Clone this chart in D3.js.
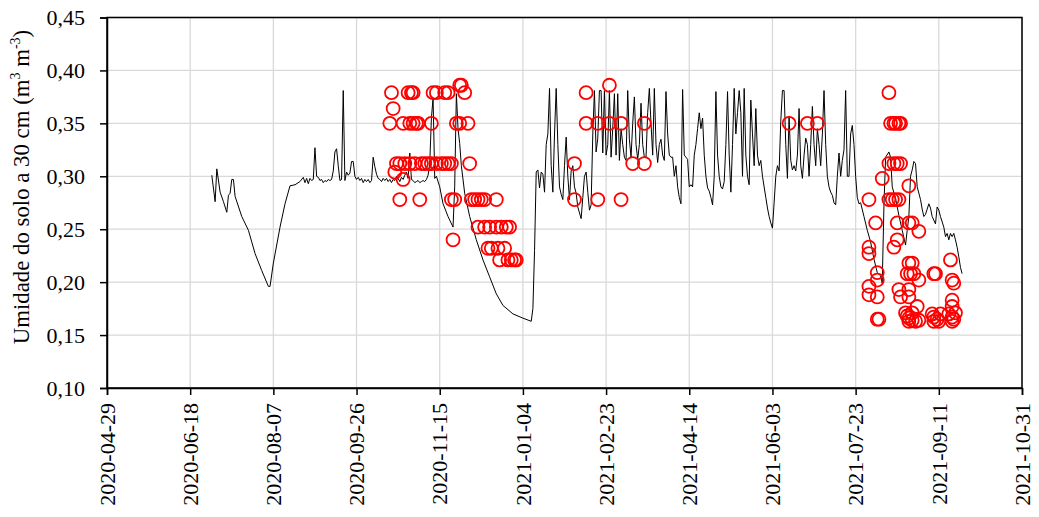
<!DOCTYPE html>
<html><head><meta charset="utf-8">
<script src="https://cdn.jsdelivr.net/npm/d3@7/dist/d3.min.js"></script>
<style>
html,body{margin:0;padding:0;background:#fff;}
svg text{font-family:"Liberation Serif","Times New Roman",serif;fill:#000;}
</style></head>
<body><svg id="c" width="1039" height="517"></svg>
<script>
// ---- data ----
const xTickLabels = ["2020-04-29","2020-06-18","2020-08-07","2020-09-26","2020-11-15","2021-01-04","2021-02-23","2021-04-14","2021-06-03","2021-07-23","2021-09-11","2021-10-31"];
const yTickValues = [0.10,0.15,0.20,0.25,0.30,0.35,0.40,0.45];
const yTitle = ["Umidade do solo a 30 cm (m","3"," m","-3",")"];

const sensorSeries = [
["2020-07-01",0.301],["2020-07-03",0.276],["2020-07-04",0.307],["2020-07-06",0.285],["2020-07-08",0.276],["2020-07-10",0.266],["2020-07-11",0.282],["2020-07-12",0.284],["2020-07-13",0.297],["2020-07-14",0.297],["2020-07-15",0.281],["2020-07-19",0.262],["2020-07-23",0.249],["2020-07-27",0.227],["2020-07-31",0.211],
["2020-08-04",0.196],["2020-08-05",0.196],["2020-08-07",0.218],["2020-08-11",0.252],["2020-08-14",0.274],["2020-08-17",0.291],["2020-08-20",0.292],["2020-08-23",0.295],["2020-08-25",0.299],["2020-08-26",0.294],["2020-08-27",0.298],["2020-08-28",0.293],["2020-08-29",0.298],["2020-08-30",0.296],["2020-08-31",0.297],
["2020-09-01",0.327],["2020-09-02",0.300],["2020-09-03",0.299],["2020-09-04",0.296],["2020-09-05",0.297],["2020-09-06",0.294],["2020-09-07",0.296],["2020-09-08",0.295],["2020-09-09",0.297],["2020-09-10",0.296],["2020-09-11",0.297],["2020-09-12",0.305],["2020-09-13",0.323],["2020-09-14",0.326],["2020-09-15",0.310],["2020-09-16",0.296],["2020-09-17",0.297],["2020-09-18",0.381],["2020-09-19",0.296],["2020-09-20",0.304],["2020-09-21",0.301],["2020-09-22",0.303],["2020-09-23",0.314],["2020-09-24",0.314],["2020-09-25",0.300],["2020-09-26",0.297],["2020-09-27",0.299],["2020-09-28",0.296],["2020-09-29",0.298],["2020-09-30",0.294],
["2020-10-01",0.297],["2020-10-02",0.295],["2020-10-03",0.297],["2020-10-04",0.294],["2020-10-05",0.296],["2020-10-06",0.318],["2020-10-07",0.309],["2020-10-08",0.302],["2020-10-09",0.298],["2020-10-10",0.297],["2020-10-11",0.295],["2020-10-12",0.298],["2020-10-13",0.296],["2020-10-14",0.298],["2020-10-15",0.295],["2020-10-16",0.297],["2020-10-17",0.294],["2020-10-18",0.297],["2020-10-19",0.296],["2020-10-20",0.300],["2020-10-21",0.298],["2020-10-22",0.295],["2020-10-23",0.299],["2020-10-24",0.297],["2020-10-25",0.301],["2020-10-26",0.304],["2020-10-27",0.298],["2020-10-28",0.322],["2020-10-29",0.297],["2020-10-30",0.296],["2020-10-31",0.294],
["2020-11-01",0.295],["2020-11-02",0.296],["2020-11-03",0.294],["2020-11-04",0.295],["2020-11-05",0.296],["2020-11-06",0.295],["2020-11-07",0.297],["2020-11-08",0.301],["2020-11-09",0.312],["2020-11-10",0.355],["2020-11-11",0.374],["2020-11-12",0.298],["2020-11-13",0.300],["2020-11-15",0.290],["2020-11-17",0.274],["2020-11-20",0.262],["2020-11-23",0.252],["2020-11-24",0.290],["2020-11-25",0.378],["2020-11-26",0.345],["2020-11-27",0.331],["2020-11-28",0.310],["2020-11-30",0.284],
["2020-12-03",0.262],["2020-12-07",0.240],["2020-12-11",0.221],["2020-12-15",0.205],["2020-12-19",0.189],["2020-12-23",0.178],["2020-12-29",0.170],
["2021-01-04",0.166],["2021-01-09",0.163],["2021-01-10",0.175],["2021-01-11",0.230],["2021-01-12",0.304],["2021-01-13",0.306],["2021-01-14",0.289],["2021-01-15",0.304],["2021-01-16",0.302],["2021-01-17",0.285],["2021-01-18",0.330],["2021-01-19",0.340],["2021-01-20",0.383],["2021-01-21",0.310],["2021-01-22",0.285],["2021-01-23",0.340],["2021-01-24",0.383],["2021-01-25",0.330],["2021-01-26",0.290],["2021-01-27",0.283],["2021-01-28",0.278],["2021-01-29",0.310],["2021-01-30",0.337],["2021-01-31",0.300],
["2021-02-01",0.278],["2021-02-02",0.305],["2021-02-03",0.310],["2021-02-04",0.290],["2021-02-05",0.284],["2021-02-06",0.271],["2021-02-08",0.260],["2021-02-09",0.280],["2021-02-10",0.300],["2021-02-11",0.304],["2021-02-12",0.285],["2021-02-13",0.268],["2021-02-14",0.273],["2021-02-15",0.340],["2021-02-16",0.381],["2021-02-17",0.323],["2021-02-18",0.336],["2021-02-19",0.381],["2021-02-20",0.381],["2021-02-21",0.322],["2021-02-22",0.381],["2021-02-23",0.320],["2021-02-24",0.330],["2021-02-25",0.381],["2021-02-26",0.318],["2021-02-27",0.345],["2021-02-28",0.378],
["2021-03-01",0.320],["2021-03-02",0.378],["2021-03-03",0.315],["2021-03-04",0.345],["2021-03-05",0.330],["2021-03-06",0.318],["2021-03-07",0.315],["2021-03-08",0.381],["2021-03-09",0.335],["2021-03-10",0.318],["2021-03-11",0.350],["2021-03-12",0.375],["2021-03-13",0.330],["2021-03-14",0.316],["2021-03-15",0.330],["2021-03-16",0.369],["2021-03-17",0.330],["2021-03-18",0.318],["2021-03-19",0.318],["2021-03-20",0.360],["2021-03-21",0.383],["2021-03-22",0.350],["2021-03-23",0.320],["2021-03-24",0.383],["2021-03-25",0.330],["2021-03-26",0.313],["2021-03-27",0.330],["2021-03-28",0.335],["2021-03-29",0.320],["2021-03-30",0.315],["2021-03-31",0.380],
["2021-04-01",0.340],["2021-04-02",0.320],["2021-04-03",0.318],["2021-04-04",0.318],["2021-04-05",0.300],["2021-04-06",0.310],["2021-04-07",0.290],["2021-04-08",0.280],["2021-04-09",0.274],["2021-04-10",0.382],["2021-04-11",0.320],["2021-04-12",0.318],["2021-04-13",0.316],["2021-04-14",0.290],["2021-04-15",0.292],["2021-04-16",0.290],["2021-04-17",0.320],["2021-04-18",0.330],["2021-04-19",0.345],["2021-04-20",0.360],["2021-04-21",0.345],["2021-04-22",0.355],["2021-04-23",0.320],["2021-04-24",0.300],["2021-04-25",0.289],["2021-04-26",0.286],["2021-04-27",0.280],["2021-04-28",0.273],["2021-04-29",0.300],["2021-04-30",0.380],
["2021-05-01",0.320],["2021-05-02",0.300],["2021-05-03",0.290],["2021-05-04",0.288],["2021-05-05",0.295],["2021-05-06",0.330],["2021-05-07",0.380],["2021-05-08",0.320],["2021-05-09",0.285],["2021-05-10",0.330],["2021-05-11",0.383],["2021-05-12",0.340],["2021-05-13",0.360],["2021-05-14",0.381],["2021-05-15",0.360],["2021-05-16",0.300],["2021-05-17",0.383],["2021-05-18",0.320],["2021-05-19",0.300],["2021-05-20",0.292],["2021-05-21",0.372],["2021-05-22",0.340],["2021-05-23",0.310],["2021-05-24",0.364],["2021-05-25",0.320],["2021-05-26",0.310],["2021-05-27",0.315],["2021-05-28",0.300],["2021-05-29",0.290],["2021-05-30",0.280],["2021-05-31",0.270],
["2021-06-01",0.262],["2021-06-02",0.256],["2021-06-03",0.251],["2021-06-04",0.275],["2021-06-05",0.300],["2021-06-06",0.310],["2021-06-07",0.305],["2021-06-08",0.352],["2021-06-09",0.381],["2021-06-10",0.381],["2021-06-11",0.330],["2021-06-12",0.298],["2021-06-13",0.357],["2021-06-14",0.315],["2021-06-15",0.306],["2021-06-16",0.310],["2021-06-17",0.305],["2021-06-18",0.320],["2021-06-19",0.364],["2021-06-20",0.310],["2021-06-21",0.298],["2021-06-22",0.320],["2021-06-23",0.336],["2021-06-24",0.330],["2021-06-25",0.300],["2021-06-26",0.330],["2021-06-27",0.366],["2021-06-28",0.330],["2021-06-29",0.310],["2021-06-30",0.345],
["2021-07-01",0.330],["2021-07-02",0.310],["2021-07-03",0.340],["2021-07-04",0.381],["2021-07-05",0.330],["2021-07-06",0.300],["2021-07-07",0.290],["2021-07-08",0.285],["2021-07-09",0.282],["2021-07-10",0.275],["2021-07-11",0.273],["2021-07-12",0.300],["2021-07-13",0.322],["2021-07-14",0.300],["2021-07-15",0.315],["2021-07-16",0.325],["2021-07-17",0.381],["2021-07-18",0.300],["2021-07-19",0.300],["2021-07-20",0.340],["2021-07-21",0.348],["2021-07-22",0.330],["2021-07-23",0.300],["2021-07-24",0.280],["2021-07-25",0.274],["2021-07-26",0.275],["2021-07-28",0.262],["2021-07-30",0.249],
["2021-08-01",0.238],["2021-08-03",0.222],["2021-08-05",0.209],["2021-08-07",0.206],["2021-08-08",0.199],["2021-08-09",0.271],["2021-08-10",0.318],["2021-08-12",0.323],["2021-08-13",0.318],["2021-08-14",0.290],["2021-08-16",0.279],["2021-08-18",0.263],["2021-08-20",0.249],["2021-08-22",0.235],["2021-08-23",0.249],["2021-08-24",0.262],["2021-08-25",0.300],["2021-08-26",0.306],["2021-08-27",0.314],["2021-08-28",0.312],["2021-08-29",0.290],["2021-08-31",0.278],
["2021-09-01",0.269],["2021-09-02",0.262],["2021-09-03",0.264],["2021-09-04",0.269],["2021-09-05",0.274],["2021-09-06",0.270],["2021-09-07",0.262],["2021-09-09",0.255],["2021-09-10",0.271],["2021-09-11",0.268],["2021-09-12",0.262],["2021-09-14",0.252],["2021-09-15",0.243],["2021-09-16",0.246],["2021-09-17",0.240],["2021-09-18",0.246],["2021-09-19",0.243],["2021-09-20",0.246],["2021-09-21",0.240],["2021-09-22",0.233],["2021-09-23",0.224],["2021-09-24",0.214],["2021-09-25",0.208]
];

const observed = [
["2020-10-16",0.350],["2020-10-17",0.379],["2020-10-18",0.364],["2020-10-19",0.304],["2020-10-20",0.312],["2020-10-22",0.312],["2020-10-22",0.278],["2020-10-24",0.350],["2020-10-24",0.297],["2020-10-25",0.312],["2020-10-27",0.379],["2020-10-28",0.350],["2020-10-28",0.312],["2020-10-29",0.379],["2020-10-30",0.379],["2020-10-30",0.350],["2020-10-31",0.312],["2020-11-01",0.350],["2020-11-02",0.350],["2020-11-03",0.278],["2020-11-04",0.312],["2020-11-06",0.312],["2020-11-08",0.312],["2020-11-10",0.350],["2020-11-10",0.312],["2020-11-11",0.379],["2020-11-13",0.379],["2020-11-13",0.312],["2020-11-16",0.312],["2020-11-18",0.379],["2020-11-18",0.312],["2020-11-20",0.379],["2020-11-20",0.312],["2020-11-22",0.312],["2020-11-22",0.278],["2020-11-23",0.240],["2020-11-24",0.278],["2020-11-25",0.350],["2020-11-27",0.386],["2020-11-27",0.350],["2020-11-28",0.386],["2020-11-30",0.379],["2020-12-02",0.350],["2020-12-03",0.312],["2020-12-04",0.278],["2020-12-06",0.278],["2020-12-08",0.278],["2020-12-08",0.252],["2020-12-10",0.278],["2020-12-12",0.278],["2020-12-12",0.252],["2020-12-14",0.232],["2020-12-15",0.252],["2020-12-16",0.232],["2020-12-19",0.278],["2020-12-19",0.252],["2020-12-20",0.232],["2020-12-21",0.221],["2020-12-22",0.252],["2020-12-24",0.232],["2020-12-25",0.252],["2020-12-26",0.221],["2020-12-27",0.252],["2020-12-28",0.221],["2020-12-30",0.221],["2020-12-31",0.221],
["2021-02-04",0.312],["2021-02-04",0.278],["2021-02-11",0.379],["2021-02-11",0.350],["2021-02-18",0.350],["2021-02-18",0.278],["2021-02-25",0.386],["2021-02-25",0.350],["2021-03-04",0.350],["2021-03-04",0.278],["2021-03-11",0.312],["2021-03-18",0.350],["2021-03-18",0.312],
["2021-06-13",0.350],["2021-06-24",0.350],["2021-06-30",0.350],
["2021-07-31",0.278],["2021-07-31",0.233],["2021-07-31",0.227],["2021-07-31",0.196],["2021-07-31",0.188],["2021-08-04",0.256],["2021-08-05",0.209],["2021-08-05",0.202],["2021-08-05",0.186],["2021-08-05",0.165],["2021-08-06",0.165],["2021-08-08",0.298],["2021-08-12",0.379],["2021-08-12",0.312],["2021-08-12",0.278],["2021-08-13",0.350],["2021-08-14",0.278],["2021-08-15",0.350],["2021-08-15",0.312],["2021-08-15",0.233],["2021-08-16",0.350],["2021-08-16",0.278],["2021-08-17",0.312],["2021-08-17",0.256],["2021-08-17",0.240],["2021-08-18",0.350],["2021-08-18",0.278],["2021-08-18",0.193],["2021-08-19",0.350],["2021-08-19",0.312],["2021-08-19",0.186],["2021-08-22",0.171],["2021-08-23",0.208],["2021-08-23",0.168],["2021-08-24",0.291],["2021-08-24",0.256],["2021-08-24",0.218],["2021-08-24",0.193],["2021-08-24",0.186],["2021-08-24",0.166],["2021-08-24",0.163],["2021-08-25",0.208],["2021-08-26",0.256],["2021-08-26",0.218],["2021-08-26",0.171],["2021-08-26",0.164],["2021-08-27",0.208],["2021-08-28",0.163],["2021-08-29",0.177],["2021-08-30",0.248],["2021-08-30",0.202],["2021-08-30",0.164],["2021-09-07",0.170],["2021-09-08",0.208],["2021-09-08",0.167],["2021-09-08",0.163],["2021-09-09",0.208],["2021-09-10",0.165],["2021-09-11",0.163],["2021-09-12",0.170],["2021-09-17",0.170],["2021-09-18",0.221],["2021-09-19",0.202],["2021-09-19",0.183],["2021-09-19",0.177],["2021-09-19",0.167],["2021-09-19",0.163],["2021-09-20",0.199],["2021-09-20",0.165],["2021-09-21",0.171]
];

// ---- drawing ----
const parse = d3.utcParse("%Y-%m-%d");
const svg = d3.select("#c");
const L = 107, R = 1022, T = 17.5, B = 388;
const x = d3.scaleUtc().domain([parse(xTickLabels[0]), parse(xTickLabels[xTickLabels.length-1])]).range([L, R]);
const y = d3.scaleLinear().domain([0.10, 0.45]).range([B, T]);
const fmt = v => d3.format(".2f")(v).replace(".", ",");
const tickDates = xTickLabels.map(parse);

// gridlines
svg.append("g").selectAll("line.h").data(yTickValues).join("line")
  .attr("x1", L).attr("x2", R).attr("y1", d => y(d)).attr("y2", d => y(d))
  .attr("stroke", "#d9d9d9").attr("stroke-width", 1.3);
svg.append("g").selectAll("line.v").data(tickDates).join("line")
  .attr("x1", d => x(d)).attr("x2", d => x(d)).attr("y1", T).attr("y2", B)
  .attr("stroke", "#d9d9d9").attr("stroke-width", 1.3);

// sensor line
const line = d3.line().x(d => x(parse(d[0]))).y(d => y(d[1]));
svg.append("path").datum(sensorSeries).attr("d", line)
  .attr("fill", "none").attr("stroke", "#000").attr("stroke-width", 1).attr("stroke-linejoin", "round");

// observed circles
svg.append("g").selectAll("circle").data(observed).join("circle")
  .attr("cx", d => x(parse(d[0]))).attr("cy", d => y(d[1])).attr("r", 6.5)
  .attr("fill", "none").attr("stroke", "#ff0000").attr("stroke-width", 1.8);

// frame
svg.append("rect").attr("x", L).attr("y", T).attr("width", R - L).attr("height", B - T)
  .attr("fill", "none").attr("stroke", "#000").attr("stroke-width", 1.5);

// axes
const xAxis = d3.axisBottom(x).tickValues(tickDates).tickSize(7).tickPadding(8).tickFormat(d3.utcFormat("%Y-%m-%d"));
const gx = svg.append("g").attr("transform", `translate(0,${B})`).call(xAxis);
gx.select(".domain").attr("stroke-width", 1.5);
gx.selectAll(".tick line").attr("stroke-width", 1.5);
gx.selectAll("text").attr("font-size", 22).attr("font-family", "Liberation Serif")
  .attr("transform", "rotate(-90)").attr("text-anchor", "end")
  .attr("x", -15).attr("y", 0).attr("dy", "0.33em");

const yAxis = d3.axisLeft(y).tickValues(yTickValues).tickSize(7).tickPadding(15).tickFormat(fmt);
const gy = svg.append("g").attr("transform", `translate(${L},0)`).call(yAxis);
gy.select(".domain").attr("stroke-width", 1.5);
gy.selectAll(".tick line").attr("stroke-width", 1.5);
gy.selectAll("text").attr("font-size", 22).attr("font-family", "Liberation Serif");

// y title
const t = svg.append("text").attr("transform", "translate(29,187) rotate(-90)")
  .attr("text-anchor", "middle").attr("font-size", 22.8);
yTitle.forEach((s, i) => {
  const sup = i % 2 === 1;
  t.append("tspan").text(s)
    .attr("font-size", sup ? 14 : 22.8)
    .attr("dy", sup ? -9 : (i === 0 ? 0 : 9));
});
</script></body></html>
